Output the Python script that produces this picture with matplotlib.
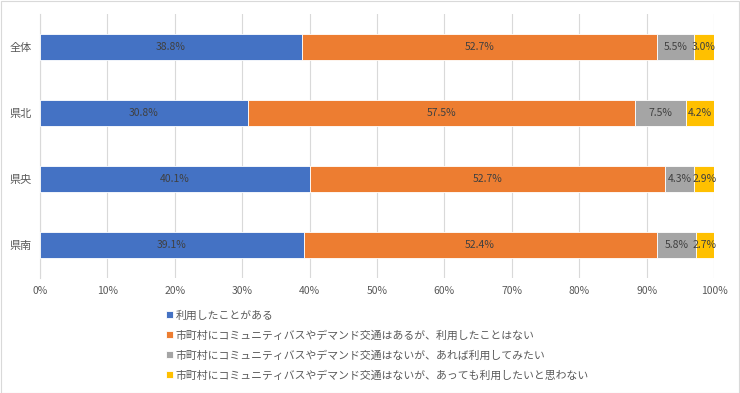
import matplotlib
matplotlib.use("Agg")
import matplotlib.pyplot as plt
from matplotlib.patches import Rectangle

plt.rcParams['font.family'] = ['Noto Sans CJK JP', 'DejaVu Sans']

categories = ['全体', '県北', '県央', '県南']
series_names = [
    '利用したことがある',
    '市町村にコミュニティバスやデマンド交通はあるが、利用したことはない',
    '市町村にコミュニティバスやデマンド交通はないが、あれば利用してみたい',
    '市町村にコミュニティバスやデマンド交通はないが、あっても利用したいと思わない',
]
used = [38.8, 30.8, 40.1, 39.1]
exists_not_used = [52.7, 57.5, 52.7, 52.4]
none_would_use = [5.5, 7.5, 4.3, 5.8]
none_would_not = [3.0, 4.2, 2.9, 2.7]
xticks = [0, 10, 20, 30, 40, 50, 60, 70, 80, 90, 100]
xtick_labels = [f'{v}%' for v in xticks]

colors = ['#4472C4', '#ED7D31', '#A5A5A5', '#FFC000']
series = [used, exists_not_used, none_would_use, none_would_not]

fig = plt.figure(figsize=(7.4, 3.93), dpi=100)
ax = fig.add_axes([40/740, 1-278/393, 674/740, 264/393])

ypos = list(range(len(categories)))
left = [0.0]*len(categories)
handles = []
for vals, col, name in zip(series, colors, series_names):
    bars = ax.barh(ypos, vals, left=left, height=0.4, color=col,
                   edgecolor='white', linewidth=0.6, label=name, zorder=3)
    handles.append(bars)
    for y, v, l in zip(ypos, vals, left):
        ax.text(l + v/2, y, f'{v:.1f}%', ha='center', va='center',
                fontsize=7.5, color='#404040', zorder=4)
    left = [a+b for a, b in zip(left, vals)]

ax.set_ylim(len(categories)-0.5, -0.5)
ax.set_xlim(0, 100)
ax.set_yticks(ypos)
ax.set_yticklabels(categories, fontsize=8, color='#595959')
ax.set_xticks(xticks)
ax.set_xticklabels(xtick_labels, fontsize=7.5, color='#595959')
ax.tick_params(axis='both', length=0, pad=6)
ax.grid(axis='x', color='#D9D9D9', linewidth=0.8, zorder=0)
for s in ['top', 'right', 'bottom']:
    ax.spines[s].set_visible(False)
ax.spines['left'].set_color('#D9D9D9')
ax.spines['left'].set_linewidth(0.8)

leg = fig.legend(handles=handles, labels=series_names, loc='upper left',
                 bbox_to_anchor=(161/740, 1-305/393), frameon=False,
                 fontsize=7.8, handlelength=0.6, handleheight=0.6,
                 handletextpad=0.25, labelspacing=0.88, borderpad=0)
for t in leg.get_texts():
    t.set_color('#595959')

fig.add_artist(Rectangle((0.5/740, 0.5/393), 1-1.5/740, 1-1.5/393,
                         transform=fig.transFigure, fill=False,
                         edgecolor='#D9D9D9', linewidth=0.8))

fig.savefig('out.png', dpi=100)
